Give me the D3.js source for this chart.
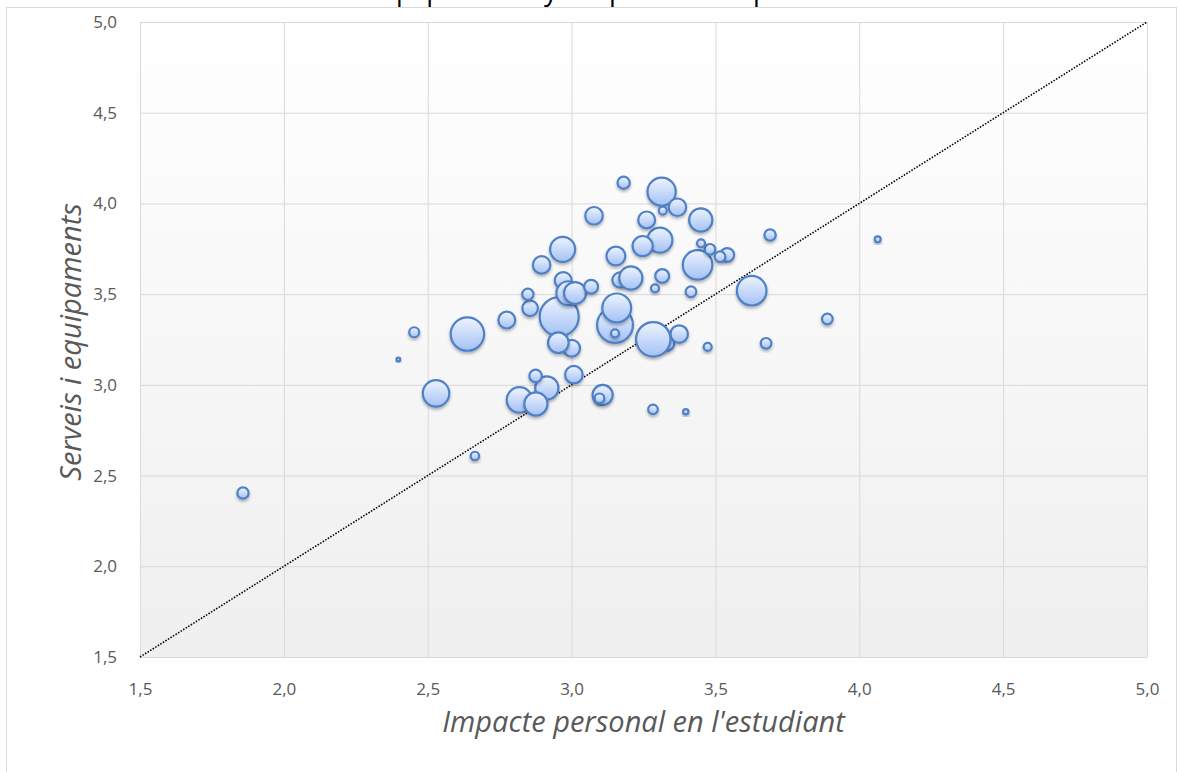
<!DOCTYPE html>
<html>
<head>
<meta charset="utf-8">
<script src="https://cdn.jsdelivr.net/npm/d3@7"></script>
<style>
  body { margin: 0; background: #fff; }
</style>
</head>
<body>
<div id="chart-area"></div>
<script>
// values (draw order = array order)
var xVals = [3.331, 3.168, 2.971, 3.000, 3.374,
  2.957, 3.151, 3.284, 2.638, 3.438, 3.626, 3.157, 3.313, 2.529, 2.819, 2.969, 3.307, 2.989,
  3.206, 3.449, 2.914, 2.876, 3.012, 2.954, 3.247, 3.108, 3.154, 2.896, 3.078, 3.368, 3.008,
  2.775, 3.261, 2.856, 3.068, 3.541, 3.315, 2.875, 3.181, 1.858, 2.848, 3.690, 3.481, 3.516,
  3.415, 3.889, 3.676, 2.453, 3.097, 3.283, 2.664, 3.151, 3.317, 3.450, 3.290, 3.473, 4.064,
  3.397, 2.398];
var yVals = [3.229, 3.578, 3.575, 3.202, 3.280,
  3.376, 3.330, 3.251, 3.280, 3.661, 3.519, 3.424, 4.065, 2.953, 2.917, 3.747, 3.798, 3.505,
  3.589, 3.909, 2.983, 2.895, 3.506, 3.232, 3.765, 2.944, 3.710, 3.661, 3.932, 3.979, 3.056,
  3.357, 3.909, 3.422, 3.541, 3.716, 3.600, 3.049, 4.114, 2.404, 3.499, 3.826, 3.747, 3.706,
  3.513, 3.363, 3.229, 3.290, 2.926, 2.865, 2.608, 3.284, 3.960, 3.780, 3.532, 3.209, 3.802,
  2.852, 3.140];
var sizes = [32, 32, 40, 40, 43,
  214, 180, 167, 157, 123, 123, 117, 112, 98, 91, 88, 88, 81,
  76, 76, 76, 76, 68, 60, 57, 57, 50, 43, 43, 43, 43,
  40, 40, 34, 27, 27, 27, 22, 21, 18, 18, 18, 16, 16,
  16, 16, 16, 14, 13, 13, 10, 9, 9, 9, 9, 9, 5,
  4, 2];
var tickVals = [1.5, 2.0, 2.5, 3.0, 3.5, 4.0, 4.5, 5.0];
var chartTitle = "Serveis i equipaments y l'impacte en el personal";
var xTitle = "Impacte personal en l'estudiant";
var yTitle = "Serveis i equipaments";

var width = 1178, height = 772;
var margin = {left: 140, right: 31, top: 22, bottom: 115};

var svg = d3.select("#chart-area").append("svg")
    .attr("width", width)
    .attr("height", height)
    .style("display", "block");

var defs = svg.append("defs");

var bg = defs.append("linearGradient")
    .attr("id", "plotBg")
    .attr("x1", 0).attr("y1", 0).attr("x2", 0).attr("y2", 1);
bg.append("stop").attr("offset", "0%").attr("stop-color", "#ffffff");
bg.append("stop").attr("offset", "100%").attr("stop-color", "#efefef");

var bub = defs.append("linearGradient")
    .attr("id", "bubFill")
    .attr("x1", 0).attr("y1", 0).attr("x2", 0).attr("y2", 1);
bub.append("stop").attr("offset", "0%").attr("stop-color", "#eef4ff");
bub.append("stop").attr("offset", "100%").attr("stop-color", "#a4c1f4");

var shadow = defs.append("filter")
    .attr("id", "shadow")
    .attr("x", "-30%").attr("y", "-30%")
    .attr("width", "160%").attr("height", "170%");
shadow.append("feDropShadow")
    .attr("dx", 0).attr("dy", 2)
    .attr("stdDeviation", 1.5)
    .attr("flood-color", "#000")
    .attr("flood-opacity", 0.3);

var x = d3.scaleLinear().domain([1.5, 5]).range([margin.left, width - margin.right]);
var y = d3.scaleLinear().domain([1.5, 5]).range([height - margin.bottom, margin.top]);
var r = d3.scaleSqrt().domain([0, d3.max(sizes)]).range([0, 19.5]);

var fmt = function(v) { return d3.format(".1f")(v).replace(".", ","); };

// outer chart frame
svg.append("rect")
    .attr("x", 6.5).attr("y", 7.5)
    .attr("width", 1170).attr("height", 780)
    .attr("fill", "none")
    .attr("stroke", "#d9d9d9");

// title (mostly cut off at the top, as in the original)
svg.append("text")
    .attr("x", 261)
    .attr("y", 0)
    .attr("font-family", "Open Sans")
    .attr("font-size", "27px")
    .attr("fill", "#000")
    .text(chartTitle);

// plot area
svg.append("rect")
    .attr("x", x(1.5)).attr("y", y(5))
    .attr("width", x(5) - x(1.5)).attr("height", y(1.5) - y(5))
    .attr("fill", "url(#plotBg)");

var xAxis = svg.append("g")
    .attr("transform", "translate(0," + y(1.5) + ")")
    .call(d3.axisBottom(x).tickValues(tickVals).tickSize(-(y(1.5) - y(5))).tickFormat(fmt).tickPadding(26));

var yAxis = svg.append("g")
    .attr("transform", "translate(" + x(1.5) + ",0)")
    .call(d3.axisLeft(y).tickValues(tickVals).tickSize(-(x(5) - x(1.5))).tickFormat(fmt).tickPadding(23));

[xAxis, yAxis].forEach(function(g) {
  g.select(".domain").remove();
  g.selectAll(".tick line").attr("stroke", "#d9d9d9").attr("stroke-width", 1);
  g.selectAll(".tick text")
      .attr("font-family", "Open Sans")
      .attr("font-size", "17px")
      .attr("fill", "#595959");
});

// y = x reference line
svg.append("line")
    .attr("x1", x(1.5)).attr("y1", y(1.5))
    .attr("x2", x(5)).attr("y2", y(5))
    .attr("stroke", "#000")
    .attr("stroke-width", 1.6)
    .attr("stroke-dasharray", "1.5,1.5");

// bubbles
svg.append("g").selectAll("circle")
    .data(sizes.map(function(s, i) { return {x: xVals[i], y: yVals[i], s: s}; }))
    .enter().append("circle")
    .attr("cx", function(d) { return x(d.x); })
    .attr("cy", function(d) { return y(d.y); })
    .attr("r", function(d) { return r(d.s); })
    .attr("fill", "url(#bubFill)")
    .attr("stroke", "#4f81c7")
    .attr("stroke-width", 2.2)
    .attr("filter", "url(#shadow)");

// axis titles
svg.append("text")
    .attr("x", (x(1.5) + x(5)) / 2)
    .attr("y", 732)
    .attr("text-anchor", "middle")
    .attr("font-family", "Open Sans")
    .attr("font-style", "italic")
    .attr("font-size", "29px")
    .attr("fill", "#595959")
    .text(xTitle);

svg.append("text")
    .attr("transform", "translate(81," + 342 + ") rotate(-90)")
    .attr("text-anchor", "middle")
    .attr("font-family", "Open Sans")
    .attr("font-style", "italic")
    .attr("font-size", "29px")
    .attr("fill", "#595959")
    .text(yTitle);
</script>
</body>
</html>
